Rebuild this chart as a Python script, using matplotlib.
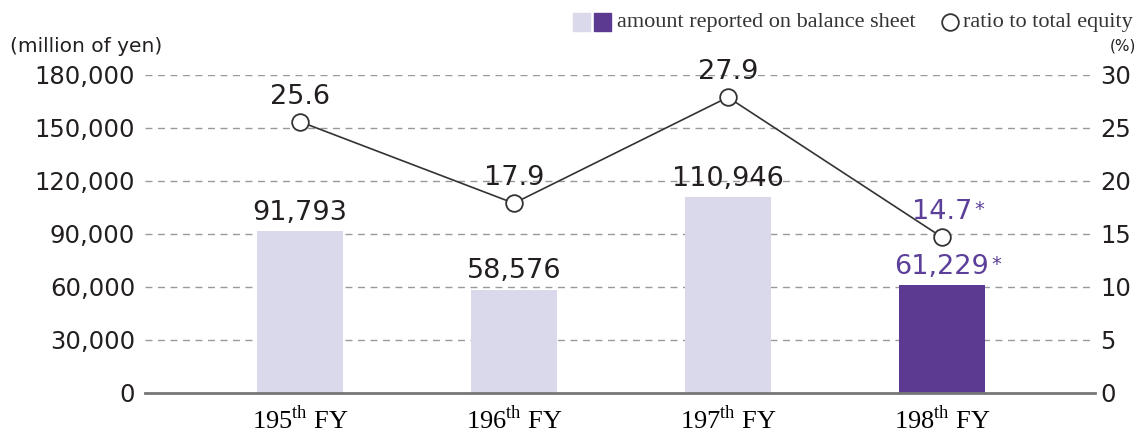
import matplotlib
matplotlib.use('Agg')
import matplotlib.pyplot as plt
from matplotlib.patches import Rectangle
from matplotlib.lines import Line2D

plt.rcParams['font.family'] = ['DejaVu Sans']
plt.rcParams['mathtext.fontset'] = 'custom'
plt.rcParams['mathtext.rm'] = 'Liberation Serif'

# data
periods = ['195', '196', '197', '198']
amounts = [91793, 58576, 110946, 61229]
ratios = [25.6, 17.9, 27.9, 14.7]
amount_labels = ['91,793', '58,576', '110,946', '61,229']
ratio_labels = ['25.6', '17.9', '27.9', '14.7']
starred = [False, False, False, True]
left_ticks = [0, 30000, 60000, 90000, 120000, 150000, 180000]
right_ticks = [0, 5, 10, 15, 20, 25, 30]

LIGHT = '#dad8eb'
DARK = '#5c3a91'
TXT = '#231f20'
PURPLE_TXT = '#5b3f98'

fig = plt.figure(figsize=(11.45, 4.34), dpi=100)
ax = fig.add_axes([0.1266, 0.0945, 0.8297, 0.7327])
x = list(range(len(periods)))
colors = [DARK if s else LIGHT for s in starred]
ax.bar(x, amounts, width=0.405, color=colors, zorder=2)
ax.set_xlim(-0.724, 3.715)
ax.set_ylim(0, 180000)
ax.set_yticks(left_ticks)
ax.set_yticklabels(['{:,}'.format(v) for v in left_ticks], fontsize=17.5, color=TXT)
ax.set_xticks(x)
ax.set_xticklabels(['%s$^{\\mathrm{th}}$ FY' % p for p in periods],
                   fontfamily='Liberation Serif', fontsize=19, color='black')
ax.tick_params(axis='y', length=0, pad=7)
ax.tick_params(axis='x', length=0, pad=9)
for s in ['top', 'right', 'left']:
    ax.spines[s].set_visible(False)
ax.spines['bottom'].set_color('#777777')
ax.spines['bottom'].set_linewidth(2)
ax.spines['bottom'].set_zorder(3)
for v in left_ticks[1:]:
    ax.axhline(v, color='#999999', lw=1, dashes=(5, 4), zorder=1)


def put_label(axis, text, xy, dy, size, star):
    c = PURPLE_TXT if star else TXT
    t = axis.annotate(text, xy, xytext=(0, dy), textcoords='offset points',
                      ha='center', va='center', fontsize=size, color=c, zorder=6)
    if star:
        axis.annotate('*', xy=(1, 0.97), xycoords=t, xytext=(1.5, 0), textcoords='offset points',
                      ha='left', va='top', fontsize=14, color=c, zorder=6)


for i in x:
    put_label(ax, amount_labels[i], (i, amounts[i]), 13, 19.5, starred[i])

ax2 = ax.twinx()
ax2.set_ylim(0, 30)
ax2.set_yticks(right_ticks)
ax2.set_yticklabels([str(v) for v in right_ticks], fontsize=17.5, color=TXT)
ax2.tick_params(axis='y', length=0, pad=4)
for s in ax2.spines.values():
    s.set_visible(False)
ax2.plot(x, ratios, color='#333333', lw=1.2, marker='o', ms=12,
         mfc='white', mec='#333333', mew=1.3, zorder=5)
for i in x:
    put_label(ax2, ratio_labels[i], (i, ratios[i]), 18, 19.5, starred[i])

# units
fig.text(0.009, 0.894, '(million of yen)', fontsize=14.5, color=TXT, va='center')
fig.text(0.992, 0.894, '(%)', fontsize=11, color=TXT, va='center', ha='right')

# legend
fig.patches.append(Rectangle((0.5004, 0.9286), 0.0148, 0.0415, transform=fig.transFigure,
                             color=LIGHT))
fig.patches.append(Rectangle((0.5188, 0.9286), 0.0148, 0.0415, transform=fig.transFigure,
                             color=DARK))
fig.text(0.539, 0.949, 'amount reported on balance sheet', fontfamily='Liberation Serif',
         fontsize=16, color='#333333', va='center')
fig.lines.append(Line2D([0.8297], [0.949], transform=fig.transFigure, marker='o', ms=12,
                        mfc='white', mec='#333333', mew=1.3, ls='none'))
fig.text(0.841, 0.949, 'ratio to total equity', fontfamily='Liberation Serif',
         fontsize=16, color='#333333', va='center')

fig.savefig('out.png', dpi=100)
